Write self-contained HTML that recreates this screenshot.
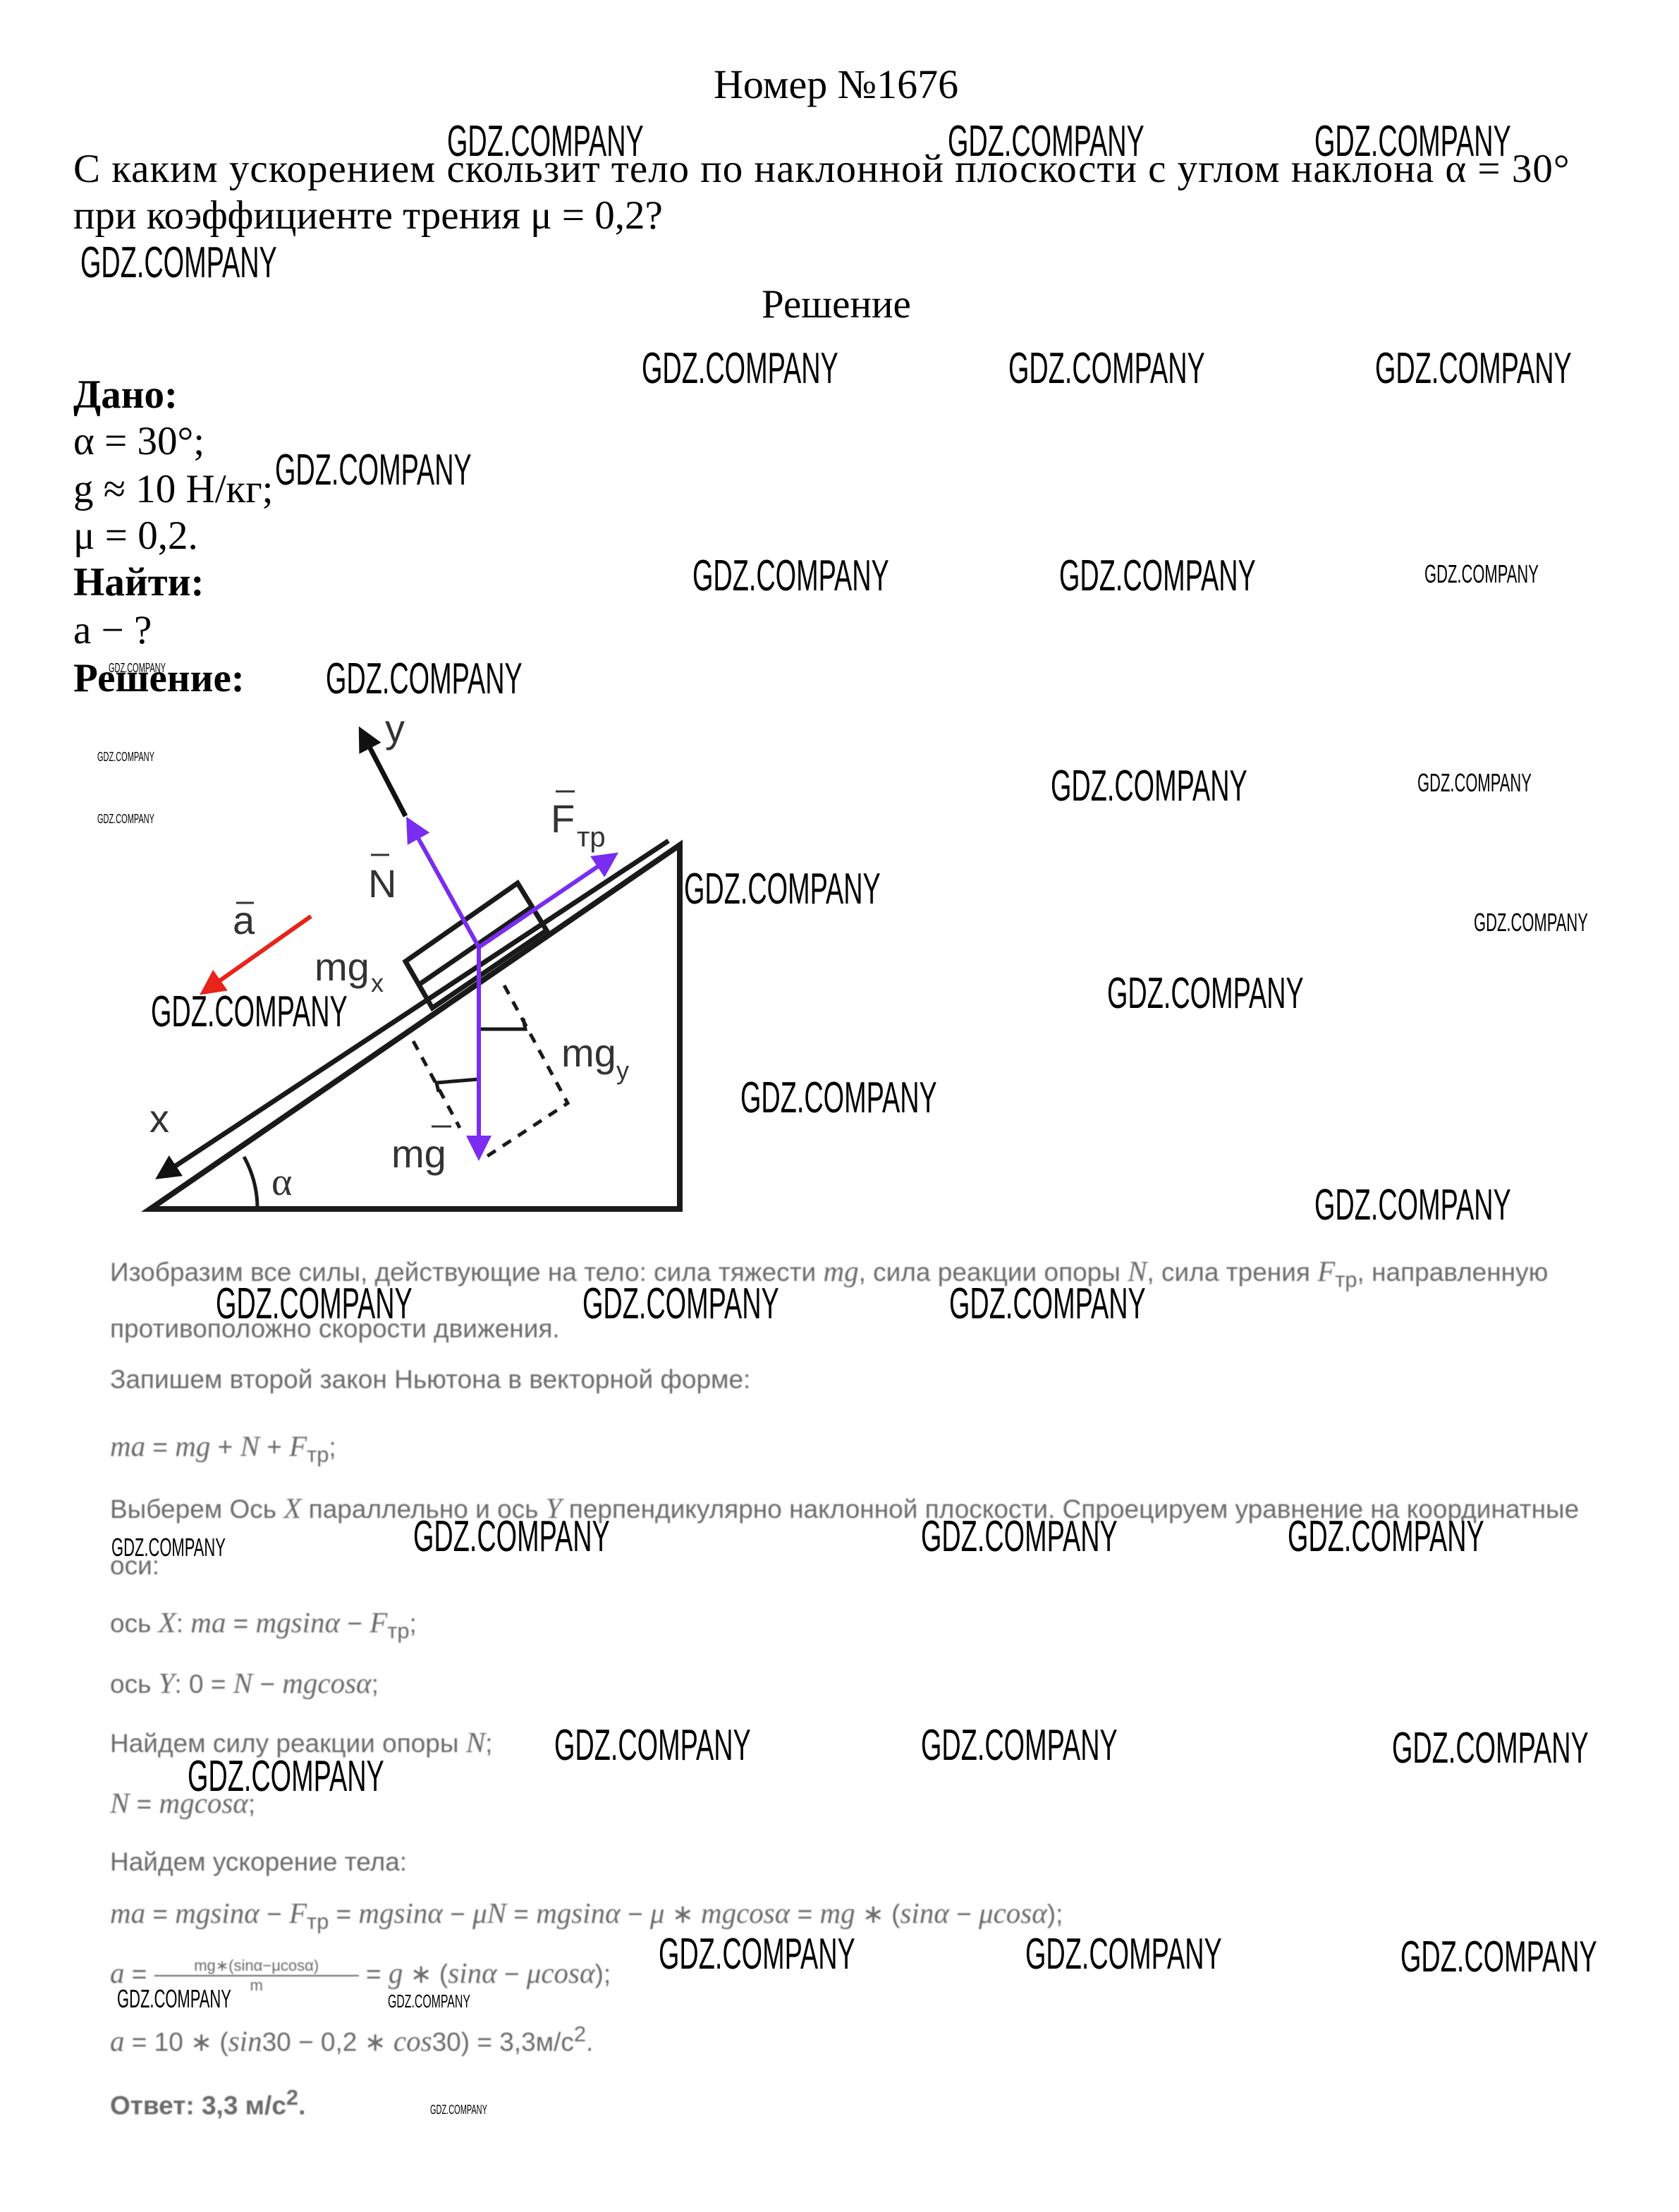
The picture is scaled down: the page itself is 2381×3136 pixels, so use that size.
<!DOCTYPE html>
<html><head><meta charset="utf-8"><style>
body{margin:0;width:2381px;height:3136px;background:#fff;position:relative;overflow:hidden;font-family:"Liberation Serif",serif;}
.t{position:absolute;font-size:57px;white-space:nowrap;color:#000;line-height:60px;}
.b{font-weight:bold;}
.g{position:absolute;font-family:"Liberation Sans",sans-serif;font-size:37px;color:#6a6a6a;white-space:nowrap;line-height:44px;filter:blur(0.8px);}
.g i{font-family:"Liberation Serif",serif;font-size:41px;}
.w{position:absolute;font-family:"Liberation Sans",sans-serif;font-size:62px;white-space:nowrap;transform:scaleX(0.61);transform-origin:left top;line-height:62px;font-weight:normal;color:#000;}
.s{font-size:36px;line-height:36px;}
.xs{font-size:18px;line-height:18px;}
</style></head><body>
<div class="t" style="left:1012px;top:90px;font-size:58px">Номер №1676</div>
<div class="t" style="left:104px;top:210px;letter-spacing:1px">С каким ускорением скользит тело по наклонной плоскости с углом наклона α = 30°</div>
<div class="t" style="left:104px;top:276px">при коэффициенте трения μ = 0,2?</div>
<div class="t" style="left:1080px;top:402px">Решение</div>
<div class="t b" style="left:104px;top:530px">Дано:</div>
<div class="t" style="left:104px;top:596px">α = 30°;</div>
<div class="t" style="left:104px;top:664px">g ≈ 10 Н/кг;</div>
<div class="t" style="left:104px;top:730px">μ = 0,2.</div>
<div class="t b" style="left:104px;top:796px">Найти:</div>
<div class="t" style="left:104px;top:864px">a − ?</div>
<div class="t b" style="left:104px;top:932px">Решение:</div>

<svg style="position:absolute;left:0;top:0" width="2381" height="3136">
<defs>
<marker id="ab" markerWidth="5" markerHeight="5" refX="4" refY="2.5" orient="auto" markerUnits="strokeWidth"><path d="M0,0 L5,2.5 L0,5 z" fill="#111"/></marker>
<marker id="ap" markerWidth="6" markerHeight="6" refX="5" refY="3" orient="auto" markerUnits="strokeWidth"><path d="M0,0 L6,3 L0,6 z" fill="#7a2cf0"/></marker>
<marker id="ar" markerWidth="6" markerHeight="6" refX="5" refY="3" orient="auto" markerUnits="strokeWidth"><path d="M0,0 L6,3 L0,6 z" fill="#e8231a"/></marker>
</defs>
<g stroke="#1a1a1a" stroke-width="8" fill="none">
<path d="M213,1714 L964,1714 L964,1198 Z"/>
<line x1="948" y1="1192" x2="226" y2="1668" stroke-width="7" marker-end="url(#ab)"/>
<path d="M575,1363 L734,1252 L775,1319 L613,1429 Z" stroke-width="7"/>
<path d="M594,1396 L754,1286" stroke-width="7"/>
<path d="M365,1714 A152,152 0 0 0 346,1640" stroke-width="5"/>
<path d="M679,1459 L745,1459 L742,1444" stroke-width="5"/>
<path d="M679,1530 L619,1535 L622,1548" stroke-width="5"/>
<path d="M586,1476 L652,1599 M715,1397 L805,1564 L685,1643" stroke-width="5" stroke-dasharray="14,12"/>
</g>
<line x1="575" y1="1157" x2="512" y2="1036" stroke="#111" stroke-width="7" marker-end="url(#ab)"/>
<g stroke="#7a2cf0" stroke-width="6">
<line x1="679" y1="1343" x2="579" y2="1163" marker-end="url(#ap)"/>
<line x1="679" y1="1343" x2="872" y2="1212" marker-end="url(#ap)"/>
<line x1="679" y1="1343" x2="679" y2="1640" marker-end="url(#ap)"/>
</g>
<line x1="441" y1="1299" x2="288" y2="1407" stroke="#e8231a" stroke-width="6" marker-end="url(#ar)"/>
<g font-family="Liberation Sans,sans-serif" font-size="56" fill="#333">
<text x="546" y="1052">y</text>
<text x="522" y="1272">N</text>
<text x="781" y="1180">F</text><text x="818" y="1200" font-size="40">тр</text>
<text x="446" y="1390">mg</text><text x="526" y="1406" font-size="36">x</text>
<text x="796" y="1512">mg</text><text x="874" y="1530" font-size="36">y</text>
<text x="555" y="1655">mg</text>
<text x="330" y="1324">a</text>
<text x="212" y="1605">x</text>
<text x="385" y="1694" font-family="Liberation Serif,serif">α</text>
</g>
<g stroke="#333" stroke-width="3">
<line x1="526" y1="1212" x2="552" y2="1212"/><line x1="788" y1="1122" x2="815" y2="1122"/>
<line x1="335" y1="1280" x2="360" y2="1280"/><line x1="612" y1="1597" x2="640" y2="1597"/>
</g>
</svg>

<div class="g" style="left:156px;top:1780px">Изобразим все силы, действующие на тело: сила тяжести <i>mg</i>, сила реакции опоры <i>N</i>, сила трения <i>F</i><sub>тр</sub>, направленную</div>
<div class="g" style="left:156px;top:1862px">противоположно скорости движения.</div>
<div class="g" style="left:156px;top:1934px">Запишем второй закон Ньютона в векторной форме:</div>
<div class="g" style="left:156px;top:2028px"><i>ma</i> = <i>mg</i> + <i>N</i> + <i>F</i><sub>тр</sub>;</div>
<div class="g" style="left:156px;top:2116px">Выберем Ось <i>X</i> параллельно и ось <i>Y</i> перпендикулярно наклонной плоскости. Спроецируем уравнение на координатные</div>
<div class="g" style="left:156px;top:2198px">оси:</div>
<div class="g" style="left:156px;top:2278px">ось <i>X</i>: <i>ma</i> = <i>mgsinα</i> − <i>F</i><sub>тр</sub>;</div>
<div class="g" style="left:156px;top:2364px">ось <i>Y</i>: 0 = <i>N</i> − <i>mgcosα</i>;</div>
<div class="g" style="left:156px;top:2448px">Найдем силу реакции опоры <i>N</i>;</div>
<div class="g" style="left:156px;top:2534px"><i>N</i> = <i>mgcosα</i>;</div>
<div class="g" style="left:156px;top:2618px">Найдем ускорение тела:</div>
<div class="g" style="left:156px;top:2690px"><i>ma</i> = <i>mgsinα</i> − <i>F</i><sub>тр</sub> = <i>mgsinα</i> − <i>μN</i> = <i>mgsinα</i> − <i>μ</i> ∗ <i>mgcosα</i> = <i>mg</i> ∗ (<i>sinα</i> − <i>μcosα</i>);</div>
<div class="g" style="left:156px;top:2774px"><i>a</i> = <span style="display:inline-block;vertical-align:middle;text-align:center;font-size:22px;line-height:26px;width:290px"><span style="display:block;border-bottom:2px solid #6a6a6a">mg∗(sinα−μcosα)</span>m</span> = <i>g</i> ∗ (<i>sinα</i> − <i>μcosα</i>);</div>
<div class="g" style="left:156px;top:2862px"><i>a</i> = 10 ∗ (<i>sin</i>30 − 0,2 ∗ <i>cos</i>30) = 3,3м/с<sup>2</sup>.</div>
<div class="g" style="left:156px;top:2952px;font-weight:bold">Ответ: 3,3 м/с<sup>2</sup>.</div>

<div class="w" style="left:634px;top:170px">GDZ.COMPANY</div>
<div class="w" style="left:1344px;top:170px">GDZ.COMPANY</div>
<div class="w" style="left:1864px;top:170px">GDZ.COMPANY</div>
<div class="w" style="left:114px;top:342px">GDZ.COMPANY</div>
<div class="w" style="left:910px;top:492px">GDZ.COMPANY</div>
<div class="w" style="left:1430px;top:492px">GDZ.COMPANY</div>
<div class="w" style="left:1950px;top:492px">GDZ.COMPANY</div>
<div class="w" style="left:390px;top:636px">GDZ.COMPANY</div>
<div class="w" style="left:982px;top:786px">GDZ.COMPANY</div>
<div class="w" style="left:1502px;top:786px">GDZ.COMPANY</div>
<div class="w s" style="left:2020px;top:796px">GDZ.COMPANY</div>
<div class="w" style="left:462px;top:932px">GDZ.COMPANY</div>
<div class="w" style="left:1490px;top:1084px">GDZ.COMPANY</div>
<div class="w s" style="left:2010px;top:1092px">GDZ.COMPANY</div>
<div class="w" style="left:970px;top:1230px">GDZ.COMPANY</div>
<div class="w s" style="left:2090px;top:1290px">GDZ.COMPANY</div>
<div class="w" style="left:1570px;top:1378px">GDZ.COMPANY</div>
<div class="w" style="left:214px;top:1404px">GDZ.COMPANY</div>
<div class="w" style="left:1050px;top:1526px">GDZ.COMPANY</div>
<div class="w" style="left:1864px;top:1678px">GDZ.COMPANY</div>
<div class="w" style="left:306px;top:1818px">GDZ.COMPANY</div>
<div class="w" style="left:826px;top:1818px">GDZ.COMPANY</div>
<div class="w" style="left:1346px;top:1818px">GDZ.COMPANY</div>
<div class="w s" style="left:158px;top:2176px">GDZ.COMPANY</div>
<div class="w" style="left:586px;top:2148px">GDZ.COMPANY</div>
<div class="w" style="left:1306px;top:2148px">GDZ.COMPANY</div>
<div class="w" style="left:1826px;top:2148px">GDZ.COMPANY</div>
<div class="w" style="left:786px;top:2444px">GDZ.COMPANY</div>
<div class="w" style="left:1306px;top:2444px">GDZ.COMPANY</div>
<div class="w" style="left:1974px;top:2448px">GDZ.COMPANY</div>
<div class="w" style="left:266px;top:2488px">GDZ.COMPANY</div>
<div class="w" style="left:934px;top:2740px">GDZ.COMPANY</div>
<div class="w" style="left:1454px;top:2740px">GDZ.COMPANY</div>
<div class="w" style="left:1986px;top:2744px">GDZ.COMPANY</div>
<div class="w s" style="left:166px;top:2816px">GDZ.COMPANY</div>
<div class="w xs" style="left:550px;top:2828px;font-size:26px">GDZ.COMPANY</div>
<div class="w xs" style="left:610px;top:2982px">GDZ.COMPANY</div>
<div class="w xs" style="left:138px;top:1064px">GDZ.COMPANY</div>
<div class="w xs" style="left:138px;top:1152px">GDZ.COMPANY</div>
<div class="w xs" style="left:154px;top:938px">GDZ.COMPANY</div>
</body></html>
